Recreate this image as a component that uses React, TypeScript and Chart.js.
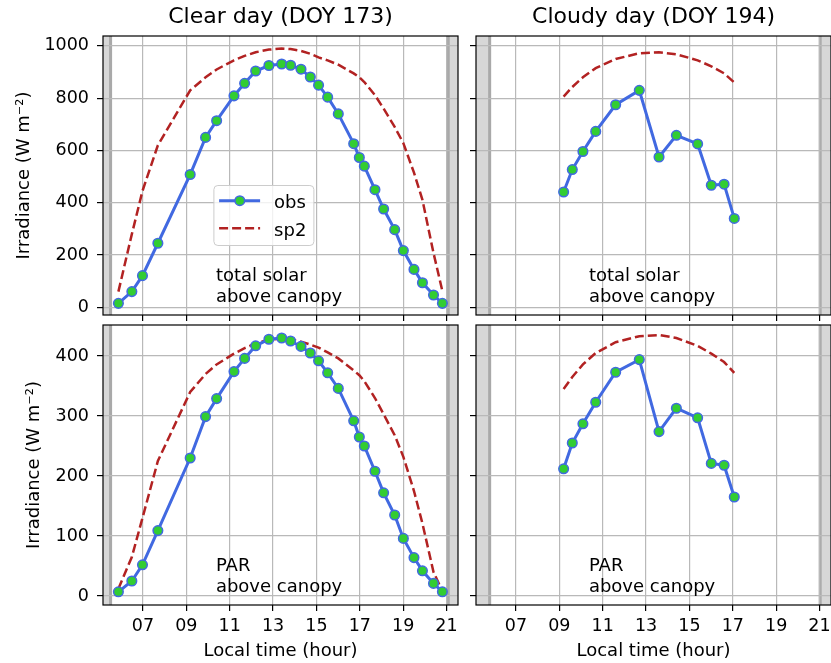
import React, { useEffect, useRef } from "react";
import { Chart, registerables } from "chart.js";

Chart.register(...registerables);

// ---------------- data ----------------
const xTickValues = [7, 9, 11, 13, 15, 17, 19, 21];
const xTickLabels = ["07", "09", "11", "13", "15", "17", "19", "21"];
const totalTicks = [0, 200, 400, 600, 800, 1000];
const parTicks = [0, 100, 200, 300, 400];

const panelTitles = ["Clear day (DOY 173)", "Cloudy day (DOY 194)"];
const yAxisLabel = "Irradiance (W m\u207B\u00B2)";
const xAxisLabel = "Local time (hour)";
const totalNote = ["total solar", "above canopy"];
const parNote = ["PAR", "above canopy"];
const seriesNames = ["obs", "sp2"];

const clearTime = [5.87, 6.49, 6.98, 7.69, 9.18, 9.89, 10.4, 11.2, 11.69, 12.2, 12.81, 13.4, 13.81, 14.29, 14.72, 15.1, 15.52, 16.01, 16.72, 16.98, 17.21, 17.7, 18.1, 18.61, 19.01, 19.5, 19.89, 20.4, 20.81];
const clearObsTotal = [15, 60, 121, 245, 508, 650, 714, 809, 857, 904, 925, 931, 926, 911, 881, 850, 804, 740, 626, 573, 540, 450, 376, 297, 217, 145, 94, 47, 15];
const clearSp2Total = [60, 280, 445, 620, 830, 880, 910, 945, 962, 976, 986, 990, 988, 981, 970, 956, 945, 928, 895, 880, 862, 812, 760, 690, 628, 515, 411, 208, 62];
const clearObsPar = [7, 25, 52, 109, 230, 299, 329, 374, 396, 417, 428, 430, 425, 416, 405, 392, 372, 346, 292, 265, 250, 208, 172, 135, 96, 64, 42, 21, 7];
const clearSp2Par = [12, 65, 130, 225, 340, 370, 386, 404, 413, 421, 427, 429, 428, 424, 419, 414, 406, 396, 376, 368, 358, 330, 303, 268, 232, 175, 121, 40, 8];

const cloudyTime = [9.2, 9.6, 10.09, 10.68, 11.6, 12.69, 13.6, 14.4, 15.38, 16.01, 16.6, 17.07];
const cloudyObsTotal = [441, 527, 596, 673, 775, 830, 575, 658, 625, 467, 471, 340];
const cloudySp2Total = [806, 843, 880, 915, 950, 972, 976, 968, 945, 922, 895, 860];
const cloudyObsPar = [212, 255, 287, 323, 373, 394, 274, 313, 297, 221, 218, 165];
const cloudySp2Par = [345, 365, 386, 405, 423, 433, 435, 430, 417, 404, 390, 372];

const clearSun = [5.51, 21.08];
const cloudySun = [5.79, 21.03];

const xRange = [5.16, 21.53];
const totalRange = [-29.5, 1038];
const parRange = [-15, 451.7];

// ---------------- styling ----------------
const FONT = "'DejaVu Sans', sans-serif";
Chart.defaults.font.family = FONT;
Chart.defaults.color = "#000";

const OBS_COLOR = "#4169e1";
const OBS_FILL = "#32cd32";
const SP2_COLOR = "#b22222";
const GRID = "#b9b9b9";

type Spec = {
  left: number; top: number; w: number; h: number;
  pad: { left: number; right: number; top: number; bottom: number };
  yWidth: number; xHeight: number;
  title?: string;
  yLabels: boolean; xLabels: boolean; yTitlePad: number;
  yTicks: number[]; yRange: number[];
  time: number[]; obs: number[]; sp2: number[];
  sun: number[]; note: string[]; legend: boolean;
};

function toXY(t: number[], v: number[]) {
  return t.map((x, i) => ({ x, y: v[i] }));
}

function decoPlugin(spec: Spec) {
  return {
    id: "deco",
    beforeDraw(chart: any) {
      const { ctx, chartArea: a, scales } = chart;
      const x = scales.x;
      const rise = x.getPixelForValue(spec.sun[0]);
      const set = x.getPixelForValue(spec.sun[1]);
      ctx.save();
      ctx.fillStyle = "#d7d7d7";
      ctx.fillRect(a.left, a.top, rise - a.left, a.bottom - a.top);
      ctx.fillRect(set, a.top, a.right - set, a.bottom - a.top);
      ctx.strokeStyle = "#a9a9a9";
      ctx.lineWidth = 3;
      ctx.beginPath();
      ctx.moveTo(rise, a.top); ctx.lineTo(rise, a.bottom);
      ctx.moveTo(set, a.top); ctx.lineTo(set, a.bottom);
      ctx.stroke();
      ctx.restore();
    },
    afterDatasetsDraw(chart: any) {
      const { ctx, chartArea: a } = chart;
      ctx.save();
      ctx.font = `18px ${FONT}`;
      ctx.fillStyle = "#000";
      ctx.textBaseline = "alphabetic";
      ctx.textAlign = "left";
      const tx = a.left + 0.318 * (a.right - a.left);
      ctx.fillText(spec.note[0], tx, a.bottom - 34);
      ctx.fillText(spec.note[1], tx, a.bottom - 13);
      ctx.restore();
    },
    afterDraw(chart: any) {
      const { ctx, chartArea: a } = chart;
      ctx.save();
      ctx.strokeStyle = "#000";
      ctx.lineWidth = 1.2;
      ctx.strokeRect(a.left, a.top, a.right - a.left, a.bottom - a.top);
      if (spec.legend) {
        const bx = a.left + 0.311 * (a.right - a.left);
        const by = a.top + 0.534 * (a.bottom - a.top);
        const bw = 100, bh = 60;
        ctx.beginPath();
        (ctx as any).roundRect(bx + 0.5, by + 0.5, bw, bh, 4);
        ctx.fillStyle = "rgba(255,255,255,0.8)";
        ctx.fill();
        ctx.strokeStyle = "#cccccc";
        ctx.lineWidth = 1;
        ctx.stroke();
        const rows = [by + 15.7, by + 43.3];
        chart.data.datasets.forEach((ds: any, i: number) => {
          const ry = rows[i];
          ctx.beginPath();
          ctx.strokeStyle = ds.borderColor;
          ctx.lineWidth = ds.borderWidth;
          ctx.setLineDash(ds.borderDash || []);
          ctx.moveTo(bx + 5.7, ry);
          ctx.lineTo(bx + 46.7, ry);
          ctx.stroke();
          ctx.setLineDash([]);
          if (ds.pointRadius > 0) {
            ctx.beginPath();
            ctx.arc(bx + 26.4, ry, ds.pointRadius, 0, Math.PI * 2);
            ctx.fillStyle = ds.pointBackgroundColor;
            ctx.fill();
            ctx.lineWidth = ds.pointBorderWidth;
            ctx.strokeStyle = ds.pointBorderColor;
            ctx.stroke();
          }
          ctx.font = `18px ${FONT}`;
          ctx.fillStyle = "#000";
          ctx.textBaseline = "alphabetic";
          ctx.textAlign = "left";
          ctx.fillText(ds.label, bx + 60.7, ry + 7.3);
        });
      }
      ctx.restore();
    },
  };
}

function buildConfig(spec: Spec): any {
  return {
    type: "line",
    data: {
      datasets: [
        {
          label: seriesNames[0],
          data: toXY(spec.time, spec.obs),
          borderColor: OBS_COLOR,
          borderWidth: 3,
          pointRadius: 4.8,
          pointBackgroundColor: OBS_FILL,
          pointBorderColor: OBS_COLOR,
          pointBorderWidth: 1.5,
          tension: 0,
        },
        {
          label: seriesNames[1],
          data: toXY(spec.time, spec.sp2),
          borderColor: SP2_COLOR,
          borderWidth: 2.5,
          borderDash: [9, 4],
          pointRadius: 0,
          tension: 0,
        },
      ],
    },
    options: {
      responsive: false,
      animation: false,
      devicePixelRatio: 1,
      events: [],
      layout: { padding: spec.pad },
      plugins: {
        legend: { display: false },
        tooltip: { enabled: false },
        title: {
          display: !!spec.title,
          text: spec.title || "",
          fullSize: false,
          color: "#000",
          font: { size: 22, weight: "normal", family: FONT, lineHeight: 1.2 },
          padding: { top: 4, bottom: 5.6 },
        },
      },
      scales: {
        x: {
          type: "linear",
          min: xRange[0],
          max: xRange[1],
          afterBuildTicks: (s: any) => {
            s.ticks = xTickValues.map((v) => ({ value: v }));
          },
          afterFit: (s: any) => {
            s.height = spec.xHeight;
            s.paddingLeft = 0; s.paddingRight = 0; s.paddingTop = 0; s.paddingBottom = 0;
          },
          ticks: {
            display: spec.xLabels,
            autoSkip: false,
            maxRotation: 0,
            padding: 5,
            color: "#000",
            font: { size: 17.5, family: FONT },
            callback: (_v: any, i: number) => xTickLabels[i],
          },
          grid: { color: GRID, lineWidth: 1.2, drawTicks: true, tickLength: 6, tickColor: "#000", tickWidth: 1.2 },
          border: { display: false },
          title: {
            display: spec.xLabels,
            text: xAxisLabel,
            color: "#000",
            font: { size: 18, family: FONT, lineHeight: 1.2 },
            padding: { top: 0, bottom: 1 },
          },
        },
        y: {
          type: "linear",
          min: spec.yRange[0],
          max: spec.yRange[1],
          afterBuildTicks: (s: any) => {
            s.ticks = spec.yTicks.map((v) => ({ value: v }));
          },
          afterFit: (s: any) => {
            s.width = spec.yWidth;
            s.paddingLeft = 0; s.paddingRight = 0; s.paddingTop = 0; s.paddingBottom = 0;
          },
          ticks: {
            display: spec.yLabels,
            padding: 8,
            color: "#000",
            font: { size: 17.5, family: FONT },
            callback: (v: any) => String(v),
          },
          grid: { color: GRID, lineWidth: 1.2, drawTicks: true, tickLength: 6, tickColor: "#000", tickWidth: 1.2 },
          border: { display: false },
          title: {
            display: spec.yLabels,
            text: yAxisLabel,
            color: "#000",
            font: { size: 18, family: FONT, lineHeight: 1.2 },
            padding: { top: spec.yTitlePad, bottom: 0 },
          },
        },
      },
    },
    plugins: [decoPlugin(spec)],
  };
}

const specs: Spec[] = [
  {
    left: 0, top: 0, w: 470, h: 325,
    pad: { left: 0, right: 12, top: 0, bottom: 0 },
    yWidth: 103, xHeight: 10, title: panelTitles[0],
    yLabels: true, xLabels: false, yTitlePad: 13.2,
    yTicks: totalTicks, yRange: totalRange,
    time: clearTime, obs: clearObsTotal, sp2: clearSp2Total,
    sun: clearSun, note: totalNote, legend: true,
  },
  {
    left: 466, top: 0, w: 375, h: 325,
    pad: { left: 0, right: 10, top: 0, bottom: 0 },
    yWidth: 10, xHeight: 10, title: panelTitles[1],
    yLabels: false, xLabels: false, yTitlePad: 0,
    yTicks: totalTicks, yRange: totalRange,
    time: cloudyTime, obs: cloudyObsTotal, sp2: cloudySp2Total,
    sun: cloudySun, note: totalNote, legend: false,
  },
  {
    left: 0, top: 315, w: 470, h: 348,
    pad: { left: 0, right: 12, top: 10, bottom: 0 },
    yWidth: 103, xHeight: 58,
    yLabels: true, xLabels: true, yTitlePad: 23.4,
    yTicks: parTicks, yRange: parRange,
    time: clearTime, obs: clearObsPar, sp2: clearSp2Par,
    sun: clearSun, note: parNote, legend: false,
  },
  {
    left: 466, top: 315, w: 375, h: 348,
    pad: { left: 0, right: 10, top: 10, bottom: 0 },
    yWidth: 10, xHeight: 58,
    yLabels: false, xLabels: true, yTitlePad: 0,
    yTicks: parTicks, yRange: parRange,
    time: cloudyTime, obs: cloudyObsPar, sp2: cloudySp2Par,
    sun: cloudySun, note: parNote, legend: false,
  },
];

function Panel({ spec }: { spec: Spec }) {
  const ref = useRef<HTMLCanvasElement>(null);
  useEffect(() => {
    const chart = new Chart(ref.current as HTMLCanvasElement, buildConfig(spec));
    return () => chart.destroy();
  }, [spec]);
  return (
    <canvas
      ref={ref}
      width={spec.w}
      height={spec.h}
      style={{ position: "absolute", left: spec.left, top: spec.top, width: spec.w, height: spec.h }}
    />
  );
}

export default function App() {
  return (
    <div
      style={{
        position: "absolute", left: 0, top: 0, width: 831, height: 663,
        overflow: "hidden", background: "#fff",
      }}
    >
      {specs.map((s, i) => (
        <Panel key={i} spec={s} />
      ))}
    </div>
  );
}
